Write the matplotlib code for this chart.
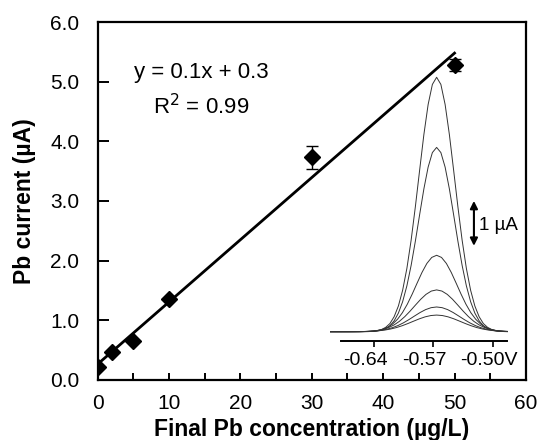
import numpy as np
import matplotlib
matplotlib.use("Agg")
import matplotlib.pyplot as plt
from matplotlib.transforms import ScaledTranslation

plt.rcParams['font.family'] = ['Liberation Sans', 'DejaVu Sans']

# ---- main calibration data ----
conc = [0, 2, 5, 10, 30, 50]                 # ug/L
current = [0.21, 0.47, 0.66, 1.35, 3.73, 5.28]  # uA
current_err = [0, 0, 0, 0, 0.20, 0.10]

x_ticks = [0, 10, 20, 30, 40, 50, 60]
y_ticks = [0, 1, 2, 3, 4, 5, 6]
y_ticklabels = ["0.0", "1.0", "2.0", "3.0", "4.0", "5.0", "6.0"]

# ---- inset voltammograms ----
peak_potential = -0.566
peak_heights = [5.66, 4.10, 1.70, 0.93, 0.55, 0.37]   # uA
width_factor = [1.0, 1.0, 1.15, 1.25, 1.3, 1.35]
profile_offsets = [-0.125, -0.120, -0.115, -0.110, -0.105, -0.100, -0.095, -0.090,
                   -0.085, -0.080, -0.075, -0.070, -0.065, -0.060, -0.055, -0.050,
                   -0.045, -0.040, -0.035, -0.030, -0.025, -0.020, -0.015, -0.010,
                   -0.005, 0.000, 0.005, 0.010, 0.015, 0.020, 0.025, 0.030, 0.035,
                   0.040, 0.045, 0.050, 0.055, 0.060, 0.065, 0.070, 0.075, 0.080,
                   0.085, 0.090]
profile_shape = [0.0, 0.0, 0.0, 0.0, 0.0, 0.0, 0.0, 0.0,
                 0.0003, 0.0007, 0.0017, 0.0039, 0.0083, 0.017, 0.032, 0.059,
                 0.101, 0.163, 0.249, 0.360, 0.492, 0.635, 0.775, 0.893,
                 0.972, 1.0, 0.972, 0.893, 0.775, 0.635, 0.492, 0.360, 0.249,
                 0.163, 0.101, 0.059, 0.032, 0.017, 0.0083, 0.0039, 0.0017, 0.0007,
                 0.0003, 0.0]
inset_ticks = [-0.64, -0.57, -0.50]
inset_ticklabels = ["-0.64", "-0.57", "-0.50V"]

fig = plt.figure(figsize=(5.45, 4.40), dpi=100)
ax = fig.add_axes([0.179, 0.1364, 0.786, 0.8136])

# fit line
slope, intercept = np.polyfit(conc, current, 1)
xf = np.array([min(conc), max(conc)])
ax.plot(xf, slope * xf + intercept, color='black', lw=2.0, zorder=2)

ax.errorbar(conc, current, yerr=current_err, fmt='D', color='black', ms=8.5,
            ecolor='black', elinewidth=1.0, capsize=4, capthick=1.0, zorder=3)

ax.set_xlim(0, 60)
ax.set_ylim(0, 6)
ax.set_xticks(np.arange(0, 61, 5))
ax.set_xticklabels([str(v) if v % 10 == 0 else "" for v in range(0, 61, 5)])
ax.set_yticks(y_ticks)
ax.set_yticklabels(y_ticklabels)
ax.tick_params(axis='x', direction='in', length=5, width=1.4, labelsize=15, pad=10)
ax.tick_params(axis='y', direction='in', length=8, width=1.4, labelsize=15, pad=13)
for s in ax.spines.values():
    s.set_linewidth(1.6)

ax.set_xlabel("Final Pb concentration (\u00b5g/L)", fontsize=16.5, fontweight='bold', labelpad=4)
ax.set_ylabel("Pb current (\u00b5A)", fontsize=16.5, fontweight='bold', labelpad=10)

ax.text(0.2415, 0.860, "y = 0.1x + 0.3", transform=ax.transAxes, fontsize=16,
        ha='center', va='center')
ax.text(0.2415, 0.765, "R$^2$ = 0.99", transform=ax.transAxes, fontsize=16,
        ha='center', va='center')

# ---- inset ----
iax = fig.add_axes([0.6055, 0.2257, 0.3266, 0.615])
iax.patch.set_alpha(0)
offs = np.array(profile_offsets)
shape = np.array(profile_shape)
for h, wf in zip(peak_heights, width_factor):
    iax.plot(peak_potential + offs * wf, h * shape, color='#333333', lw=0.7)
iax.set_xlim(-0.6915, -0.482)
iax.set_ylim(-0.2, 5.82)
for k in ['top', 'left', 'right']:
    iax.spines[k].set_visible(False)
iax.spines['bottom'].set_bounds(-0.679, -0.483)
iax.spines['bottom'].set_linewidth(1.4)
iax.set_yticks([])
iax.set_xticks(inset_ticks)
iax.set_xticklabels(inset_ticklabels)
iax.tick_params(axis='x', direction='out', length=4, width=1.2, labelsize=14, pad=4)
shifts = [-8, -9, -4]
for lab, sh in zip(iax.get_xticklabels(), shifts):
    lab.set_transform(lab.get_transform() + ScaledTranslation(sh / 100, 0, fig.dpi_scale_trans))

iax.annotate("", xy=(-0.5221, 2.91), xytext=(-0.5221, 1.91),
             arrowprops=dict(arrowstyle='<|-|>', color='black', lw=1.5,
                             mutation_scale=11, shrinkA=0, shrinkB=0))
iax.text(-0.5163, 2.37, "1 \u00b5A", fontsize=13.5, ha='left', va='center')

fig.savefig("out.png", dpi=100)
